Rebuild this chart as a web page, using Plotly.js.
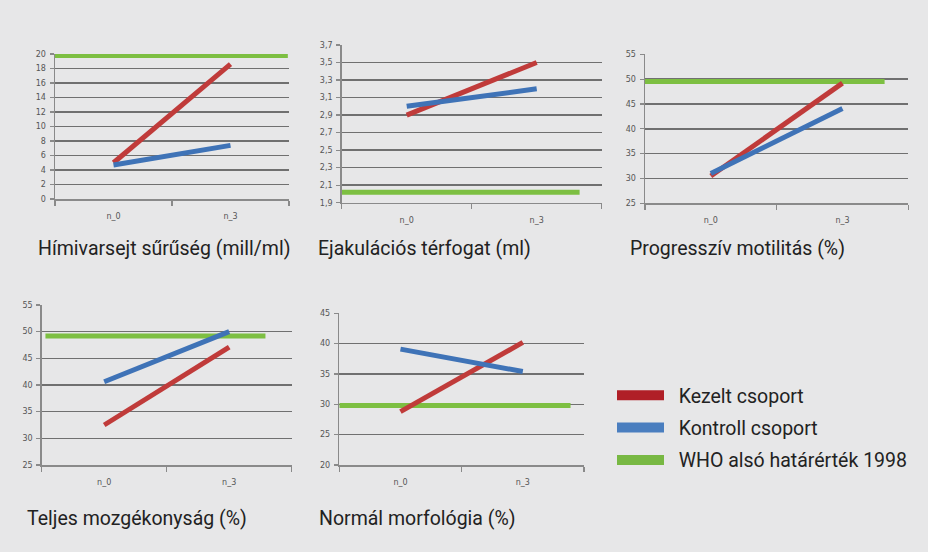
<!DOCTYPE html>
<html><head><meta charset="utf-8">
<script src="https://cdn.plot.ly/plotly-3.0.1.min.js"></script>
<style>html,body{margin:0;padding:0;background:#e7e7e8;} #chart{width:928px;height:552px;}</style>
</head><body><div id="chart"></div>
<script>
// ---- data ----
const categories = ['n_0', 'n_3'];
const seriesNames = ['Kezelt csoport', 'Kontroll csoport', 'WHO alsó határérték 1998'];
const panelTitles = ['Hímivarsejt sűrűség (mill/ml)', 'Ejakulációs térfogat (ml)', 'Progresszív motilitás (%)', 'Teljes mozgékonyság (%)', 'Normál morfológia (%)'];

const kezeltSuruseg = [5.0, 18.6];
const kontrollSuruseg = [4.7, 7.4];
const whoSuruseg = 19.8;

const kezeltTerfogat = [2.9, 3.5];
const kontrollTerfogat = [3.0, 3.2];
const whoTerfogat = 2.02;

const kezeltProgressziv = [30.5, 49.2];
const kontrollProgressziv = [31.0, 44.1];
const whoProgressziv = 49.5;

const kezeltMozgekonysag = [32.5, 47.1];
const kontrollMozgekonysag = [40.6, 50.0];
const whoMozgekonysag = 49.2;

const kezeltMorfologia = [28.8, 40.2];
const kontrollMorfologia = [39.1, 35.4];
const whoMorfologia = 29.8;

// ---- styling / layout config ----
const W = 928, H = 552;
const colors = {kezelt: '#c03b3a', kontroll: '#3f73b7', who: '#7dbf42'};
const legendColors = ['#b01f27', '#4a7ebf', '#78b843'];
const panels = [
  {kezelt: kezeltSuruseg, kontroll: kontrollSuruseg, who: whoSuruseg, box: [55, 54, 289, 199], range: [0, 20], dtick: 2, fmt: 'd', whoSpan: [-0.5, 1.49], title: [36, 248]},
  {kezelt: kezeltTerfogat, kontroll: kontrollTerfogat, who: whoTerfogat, box: [341.7, 45, 601.7, 202.7], range: [1.9, 3.7], dtick: 0.2, fmt: '.1f', whoSpan: [-0.5, 1.33], title: [316, 248]},
  {kezelt: kezeltProgressziv, kontroll: kontrollProgressziv, who: whoProgressziv, box: [645, 54.3, 908.3, 203.3], range: [25, 55], dtick: 5, fmt: 'd', whoSpan: [-0.5, 1.32], title: [628, 248]},
  {kezelt: kezeltMozgekonysag, kontroll: kontrollMozgekonysag, who: whoMozgekonysag, box: [41.7, 305, 291.7, 465], range: [25, 55], dtick: 5, fmt: 'd', whoSpan: [-0.47, 1.29], title: [25, 518]},
  {kezelt: kezeltMorfologia, kontroll: kontrollMorfologia, who: whoMorfologia, box: [339.3, 313.3, 584, 465], range: [20, 45], dtick: 5, fmt: 'd', whoSpan: [-0.5, 1.39], title: [317, 518]}
];
const textFont = {family: 'Roboto, sans-serif', size: 19.5, color: '#222'};

const catIndex = categories.map((c, i) => i);
const traces = [];
const layout = {
  width: W, height: H, autosize: false,
  margin: {l: 0, r: 0, t: 0, b: 0},
  paper_bgcolor: '#e7e7e8', plot_bgcolor: 'rgba(0,0,0,0)',
  separators: ', ',
  showlegend: true,
  legend: {
    x: 612 / W, y: 1 - 376 / H, xanchor: 'left', yanchor: 'top',
    bgcolor: 'rgba(0,0,0,0)', borderwidth: 0,
    font: textFont,
    itemwidth: 47, tracegroupgap: 4, traceorder: 'grouped'
  },
  annotations: [], shapes: []
};

panels.forEach((p, i) => {
  const n = i === 0 ? '' : String(i + 1);
  const xa = 'x' + n, ya = 'y' + n;
  const [x0, y0, x1, y1] = p.box;
  traces.push({x: [p.whoSpan[0], p.whoSpan[1]], y: [p.who, p.who], xaxis: xa, yaxis: ya, mode: 'lines',
    line: {color: colors.who, width: 5}, showlegend: false, hoverinfo: 'skip'});
  traces.push({x: catIndex, y: p.kezelt, xaxis: xa, yaxis: ya, mode: 'lines',
    line: {color: colors.kezelt, width: 5}, showlegend: false, name: seriesNames[0]});
  traces.push({x: catIndex, y: p.kontroll, xaxis: xa, yaxis: ya, mode: 'lines',
    line: {color: colors.kontroll, width: 5}, showlegend: false, name: seriesNames[1]});
  layout['xaxis' + n] = {
    domain: [x0 / W, x1 / W], anchor: ya, range: [-0.5, 1.5],
    tickmode: 'array', tickvals: catIndex, ticktext: categories, ticks: '',
    tickfont: {family: 'DejaVu Sans, sans-serif', size: 8, color: '#555'},
    ticklabelstandoff: 9,
    showgrid: false, zeroline: false, showline: true, linecolor: '#8a8a8a', linewidth: 1.5,
    minor: {tickmode: 'array', tickvals: [-0.5, 0.5, 1.5], ticks: 'outside', ticklen: 5, tickcolor: '#8a8a8a', tickwidth: 1.2, showgrid: false},
    fixedrange: true
  };
  layout['yaxis' + n] = {
    domain: [1 - y1 / H, 1 - y0 / H], anchor: xa, range: p.range,
    tickmode: 'linear', tick0: p.range[0], dtick: p.dtick, tickformat: p.fmt,
    ticks: 'outside', ticklen: 4, tickcolor: '#8a8a8a', tickwidth: 1.2,
    tickfont: {family: 'DejaVu Sans, sans-serif', size: 8, color: '#555'},
    ticklabelstandoff: 2,
    showgrid: true, gridcolor: '#707070', gridwidth: 1.4,
    zeroline: false, showline: true, linecolor: '#8a8a8a', linewidth: 1.5,
    fixedrange: true
  };
  layout.annotations.push({
    text: panelTitles[i], xref: 'paper', yref: 'paper', x: p.title[0] / W, y: 1 - p.title[1] / H,
    xanchor: 'left', yanchor: 'middle', showarrow: false,
    font: textFont
  });
});

// legend-only entries
seriesNames.forEach((name, k) => {
  traces.push({x: [null], y: [null], xaxis: 'x', yaxis: 'y', mode: 'lines', name: '  ' + name,
    legendgroup: 'g' + k, line: {color: legendColors[k], width: 10}, showlegend: true, hoverinfo: 'skip'});
});

Plotly.newPlot('chart', traces, layout, {displayModeBar: false, staticPlot: true});
</script>
</body></html>
